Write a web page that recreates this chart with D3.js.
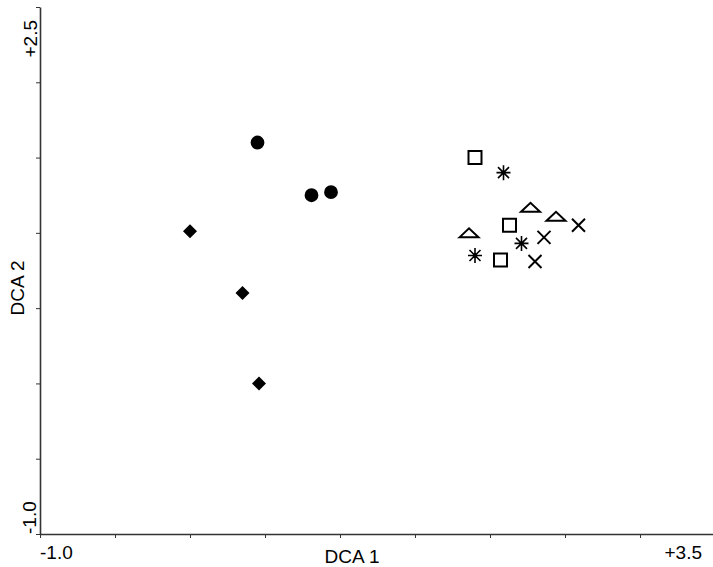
<!DOCTYPE html>
<html>
<head>
<meta charset="utf-8">
<script src="https://cdn.jsdelivr.net/npm/d3@7"></script>
<style>
  body { margin: 0; background: #fff; }
  text { font-family: "Liberation Sans", Arial, sans-serif; fill: #000; }
</style>
</head>
<body>
<svg id="drawing_region"></svg>
<script>
// sample groups and their DCA scores [axis1, axis2]
const groups = ['circle', 'diamond', 'square', 'asterisk', 'triangle', 'cross'];
const circleScores   = [[0.45, 1.60], [0.81, 1.25], [0.94, 1.27]];
const diamondScores  = [[0.00, 1.01], [0.35, 0.60], [0.46, 0.00]];
const squareScores   = [[1.90, 1.50], [2.13, 1.05], [2.07, 0.82]];
const asteriskScores = [[2.09, 1.40], [2.21, 0.93], [1.90, 0.85]];
const triangleScores = [[2.27, 1.17], [2.44, 1.11], [1.86, 1.00]];
const crossScores    = [[2.59, 1.05], [2.36, 0.97], [2.30, 0.81]];
const xTickLabels = ['-1.0', '+3.5'];
const yTickLabels = ['-1.0', '+2.5'];
const xDomain = [-1.0, 3.5];
const yDomain = [-1.0, 2.5];

const data = [];
[circleScores, diamondScores, squareScores, asteriskScores, triangleScores, crossScores]
    .forEach((arr, i) => arr.forEach(d => data.push({ group: groups[i], x: d[0], y: d[1] })));

const config = {
    width: 713,
    height: 567,
    margin: { top: 7, right: -2, bottom: 33, left: 40 }
};

const svg = d3.select('#drawing_region')
    .attr('width', config.width)
    .attr('height', config.height);

const inner_width = config.width - config.margin.left - config.margin.right;
const inner_height = config.height - config.margin.top - config.margin.bottom;

const chart = svg.append('g')
    .attr('transform', `translate(${config.margin.left}, ${config.margin.top})`);

const xscale = d3.scaleLinear().domain(xDomain).range([0, inner_width]);
const yscale = d3.scaleLinear().domain(yDomain).range([inner_height, 0]);

const xaxis = d3.axisBottom(xscale)
    .tickValues(d3.range(xDomain[0], xDomain[1] + 0.01, 0.5))
    .tickFormat('')
    .tickSize(4)
    .tickSizeOuter(0);
const yaxis = d3.axisLeft(yscale)
    .tickValues(d3.range(yDomain[0], yDomain[1] + 0.01, 0.5))
    .tickFormat('')
    .tickSize(4)
    .tickSizeOuter(0);

const xg = chart.append('g')
    .attr('transform', `translate(0, ${inner_height})`)
    .call(xaxis);
const yg = chart.append('g').call(yaxis);
[xg, yg].forEach(g => {
    g.select('.domain').attr('stroke', '#333').attr('stroke-width', 1.6);
    g.selectAll('.tick line').attr('stroke', '#333').attr('stroke-width', 1);
});

// end labels
const labelSize = 19;
chart.append('text')
    .attr('x', xscale(xDomain[0]))
    .attr('y', inner_height + 25)
    .attr('font-size', labelSize)
    .attr('text-anchor', 'start')
    .text(xTickLabels[0]);
chart.append('text')
    .attr('x', xscale(xDomain[1]) - 13)
    .attr('y', inner_height + 25)
    .attr('font-size', labelSize)
    .attr('text-anchor', 'end')
    .text(xTickLabels[1]);
chart.append('text')
    .attr('transform', `translate(-4, ${yscale(yDomain[0])}) rotate(-90)`)
    .attr('font-size', labelSize)
    .attr('text-anchor', 'start')
    .text(yTickLabels[0]);
chart.append('text')
    .attr('transform', `translate(-3, ${yscale(yDomain[1]) + 13}) rotate(-90)`)
    .attr('font-size', labelSize)
    .attr('text-anchor', 'end')
    .text(yTickLabels[1]);

// axis titles
svg.append('text')
    .attr('x', 352)
    .attr('y', 563)
    .attr('font-size', 19)
    .attr('text-anchor', 'middle')
    .text('DCA 1');
svg.append('text')
    .attr('transform', 'translate(24, 288) rotate(-90)')
    .attr('font-size', 19)
    .attr('text-anchor', 'middle')
    .text('DCA 2');

// markers
const shapes = {
    circle: d3.symbol().type(d3.symbolCircle).size(150)(),
    diamond: 'M0,-7L7,0L0,7L-7,0Z',
    square: 'M-6.5,-6.5H6.5V6.5H-6.5Z',
    asterisk: 'M0,-7.5V7.5M-7,0H7M-5.5,-5.5L5.5,5.5M-5.5,5.5L5.5,-5.5',
    triangle: 'M-9.5,4.5L0,-4.5L9.5,4.5Z',
    cross: 'M-6.5,-6.5L6.5,6.5M-6.5,6.5L6.5,-6.5'
};
const filled = { circle: true, diamond: true };
const strokeW = { square: 2, asterisk: 1.6, triangle: 2, cross: 2 };

chart.selectAll('path.mark')
    .data(data)
    .join('path')
    .attr('class', 'mark')
    .attr('transform', d => `translate(${xscale(d.x)}, ${yscale(d.y)})`)
    .attr('d', d => shapes[d.group])
    .attr('fill', d => filled[d.group] ? '#000' : 'none')
    .attr('stroke', '#000')
    .attr('stroke-width', d => filled[d.group] ? 0 : strokeW[d.group]);
</script>
</body>
</html>
